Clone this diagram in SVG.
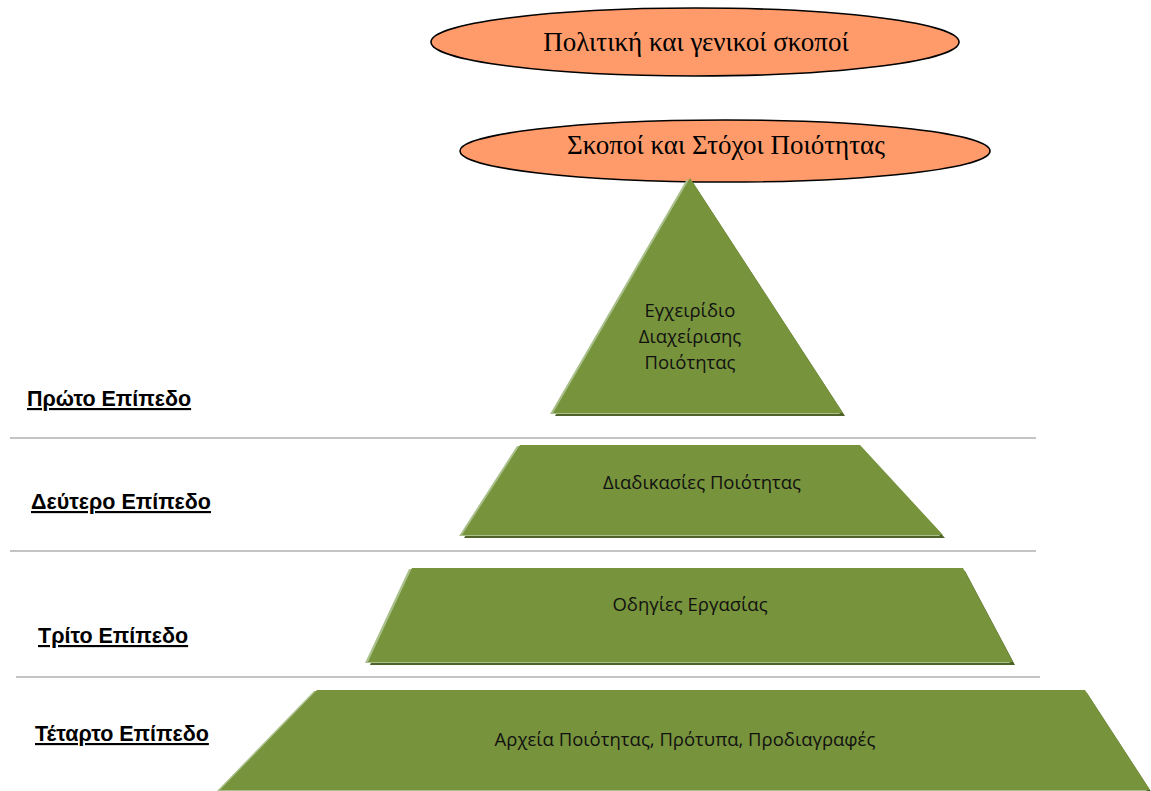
<svg xmlns="http://www.w3.org/2000/svg" width="1151" height="791" viewBox="0 0 1151 791">
  <style>
    .oval { fill: #FF9B6A; stroke: #000; stroke-width: 1.6; }
    .oval-text { font-family: "Liberation Serif", serif; font-size: 27px; fill: #000; text-anchor: middle; }
    .block { fill: #77933C; }
    .block-hi { fill: #A9C08B; }
    .block-sh { fill: #4F6228; }
    .block-text { font-family: "Open Sans", "Noto Sans", sans-serif; font-size: 18.5px; fill: #111; text-anchor: middle; }
    .level { font-family: "Liberation Sans", Arial, sans-serif; font-size: 21.5px; font-weight: bold; fill: #000; text-decoration: underline; }
    .divider { stroke: #C4C4C4; stroke-width: 2; }
  </style>
  <defs>
    <!-- triangle and trapezoid outlines, reused for the bevel layers -->
    <polygon id="tri" points="690,178 843,413 553,413"/>
    <polygon id="trap2" points="520,445 860,445 943,535 462,535"/>
    <polygon id="trap3" points="412,568 963,568 1013,662 368,662"/>
    <polygon id="trap4" points="317,690 1085,690 1150,790 220,790"/>
  </defs>
  <rect width="1151" height="791" fill="#fff"/>

  <!-- level dividers -->
  <g id="dividers">
    <line class="divider" x1="10" y1="438" x2="1036" y2="438"/>
    <line class="divider" x1="10" y1="551" x2="1036" y2="551"/>
    <line class="divider" x1="16" y1="677" x2="1040" y2="677"/>
  </g>

  <g id="connectors"/>

  <g id="policy">
    <ellipse class="oval" cx="695" cy="42" rx="264" ry="34"/>
    <text class="oval-text" x="696" y="51">Πολιτική και γενικοί σκοποί</text>
  </g>

  <g id="objectives">
    <ellipse class="oval" cx="725" cy="151" rx="265" ry="31"/>
    <text class="oval-text" x="726" y="154">Σκοποί και Στόχοι Ποιότητας</text>
  </g>

  <g id="manual">
    <use href="#tri" class="block-sh" transform="translate(2,3)"/>
    <use href="#tri" class="block-hi" transform="translate(-3,1)"/>
    <use href="#tri" class="block"/>
    <text class="block-text" x="690" y="317">Εγχειρίδιο</text>
    <text class="block-text" x="690" y="343">Διαχείρισης</text>
    <text class="block-text" x="690" y="369">Ποιότητας</text>
  </g>

  <g id="procedures">
    <use href="#trap2" class="block-sh" transform="translate(2,3)"/>
    <use href="#trap2" class="block-hi" transform="translate(-3,1)"/>
    <use href="#trap2" class="block"/>
    <text class="block-text" x="702" y="489">Διαδικασίες Ποιότητας</text>
  </g>

  <g id="instructions">
    <use href="#trap3" class="block-sh" transform="translate(2,3)"/>
    <use href="#trap3" class="block-hi" transform="translate(-3,1)"/>
    <use href="#trap3" class="block"/>
    <text class="block-text" x="690" y="611">Οδηγίες Εργασίας</text>
  </g>

  <g id="records">
    <use href="#trap4" class="block-sh" transform="translate(2,3)"/>
    <use href="#trap4" class="block-hi" transform="translate(-3,1)"/>
    <use href="#trap4" class="block"/>
    <text class="block-text" x="685" y="746">Αρχεία Ποιότητας, Πρότυπα, Προδιαγραφές</text>
  </g>

  <g id="levels">
    <text class="level" x="27" y="406">Πρώτο Επίπεδο</text>
    <text class="level" x="31" y="509">Δεύτερο Επίπεδο</text>
    <text class="level" x="38" y="643">Τρίτο Επίπεδο</text>
    <text class="level" x="35" y="741">Τέταρτο Επίπεδο</text>
  </g>
</svg>
